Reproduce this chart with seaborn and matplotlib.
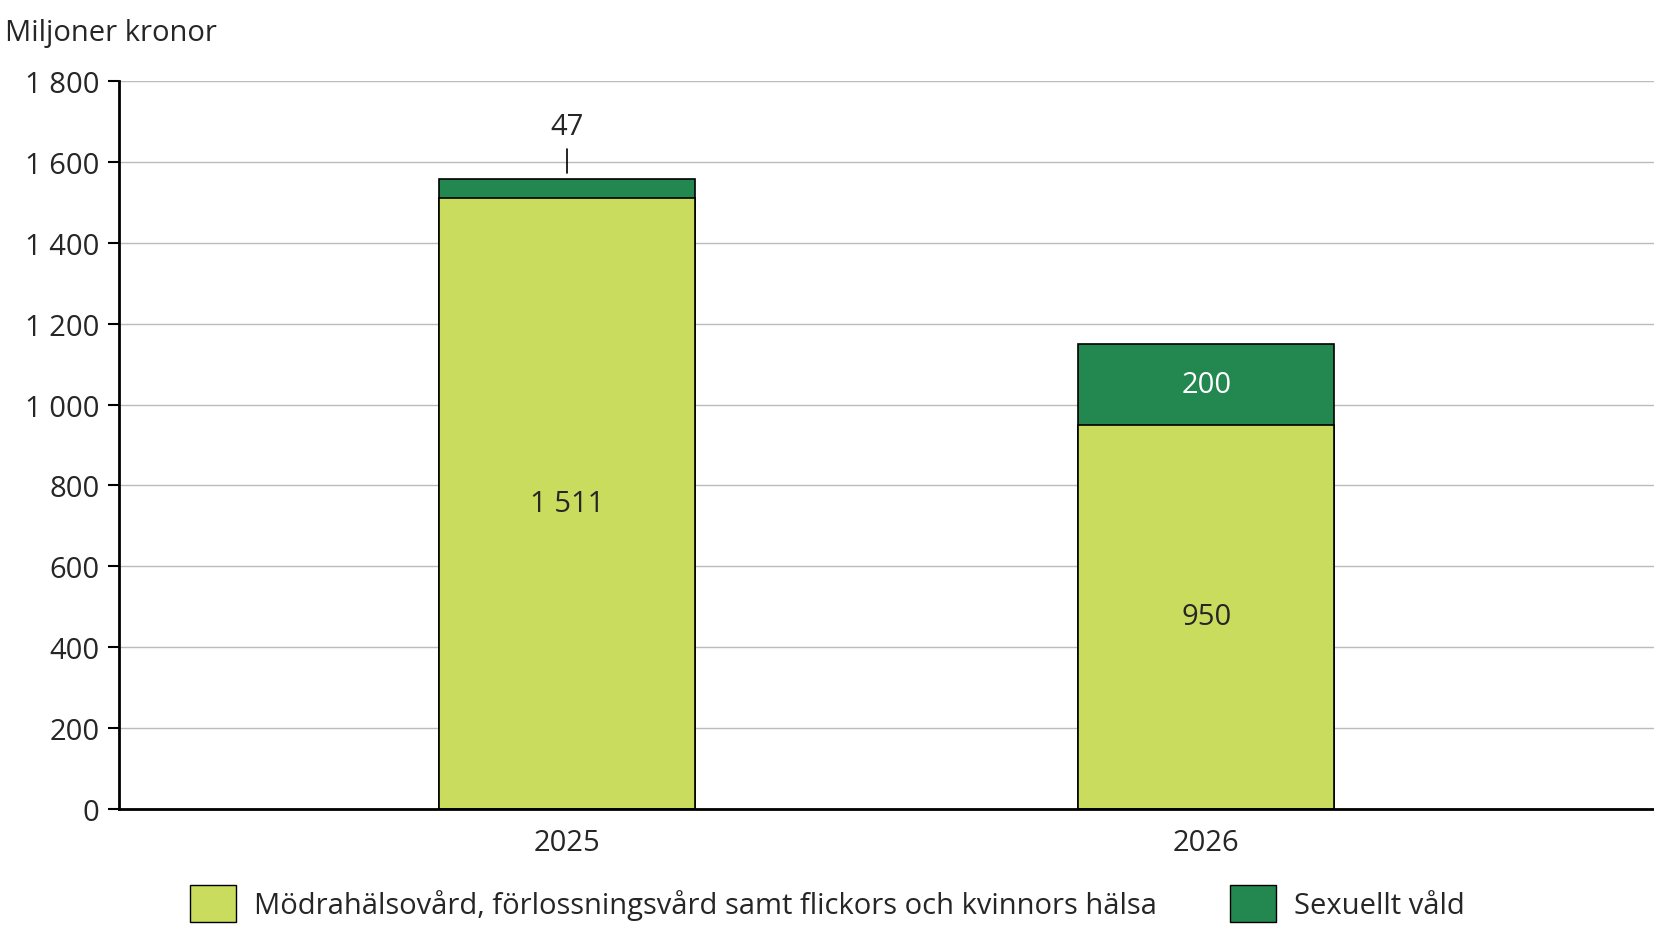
import matplotlib
matplotlib.use("Agg")
import matplotlib.pyplot as plt
import seaborn as sns
import pandas as pd
from matplotlib.patches import Patch

years = ["2025", "2026"]
modra = [1511, 950]
sexuellt = [47, 200]
series_names = ["Mödrahälsovård, förlossningsvård samt flickors och kvinnors hälsa", "Sexuellt våld"]
yticks = [0, 200, 400, 600, 800, 1000, 1200, 1400, 1600, 1800]
ytick_labels = ["0", "200", "400", "600", "800", "1 000", "1 200", "1 400", "1 600", "1 800"]

light = "#c9dc5e"
dark = "#238750"

sns.set_theme(style="white")
plt.rcParams['font.family'] = ['Open Sans', 'DejaVu Sans']

df = pd.DataFrame({"year": years, "modra": modra, "sex": sexuellt})
df["total"] = df["modra"] + df["sex"]

fig = plt.figure(figsize=(16.54, 9.45), dpi=100)
ax = fig.add_axes([0.072, 0.143, 0.928, 0.77])

sns.barplot(data=df, x="year", y="total", color=dark, width=0.4, ax=ax,
            edgecolor="black", linewidth=1.2, saturation=1)
sns.barplot(data=df, x="year", y="modra", color=light, width=0.4, ax=ax,
            edgecolor="black", linewidth=1.2, saturation=1)

ax.set_xlim(-0.70, 1.70)
ax.set_ylim(0, 1800)
ax.set_yticks(yticks)
ax.set_yticklabels(ytick_labels)
ax.yaxis.grid(True, color="#bbbbbb", linewidth=1)
ax.set_axisbelow(True)
ax.set_xlabel("")
ax.set_ylabel("")
for s in ["top", "right"]:
    ax.spines[s].set_visible(False)
for s in ["left", "bottom"]:
    ax.spines[s].set_color("black")
    ax.spines[s].set_linewidth(2)
ax.tick_params(axis="y", length=8, width=1.5, color="black", labelsize=21, pad=6, left=True)
ax.tick_params(axis="x", length=0, labelsize=21, pad=14)

fs = 21
# 2025 labels
ax.text(0, modra[0] / 2, f"{modra[0]:,}".replace(",", " "), ha="center", va="center", fontsize=fs)
top0 = modra[0] + sexuellt[0]
ax.plot([0, 0], [top0 + 15, top0 + 75], color="black", linewidth=1.2)
ax.text(0, top0 + 95, str(sexuellt[0]), ha="center", va="bottom", fontsize=fs)
# 2026 labels
ax.text(1, modra[1] / 2, str(modra[1]), ha="center", va="center", fontsize=fs)
ax.text(1, modra[1] + sexuellt[1] / 2, str(sexuellt[1]), ha="center", va="center", fontsize=fs, color="white")

fig.text(0.003, 0.98, "Miljoner kronor", fontsize=fs, va="top", ha="left")

handles = [Patch(facecolor=light, edgecolor="black"), Patch(facecolor=dark, edgecolor="black")]
fig.legend(handles, series_names, loc="lower center", bbox_to_anchor=(0.5, -0.005), ncol=2,
           frameon=False, fontsize=fs, handlelength=1.6, handleheight=1.6, columnspacing=2.5,
           handletextpad=0.6)

fig.savefig("out.png", dpi=100)
